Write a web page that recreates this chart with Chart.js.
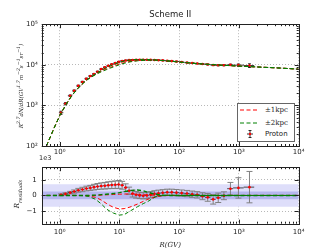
<!DOCTYPE html>
<html>
<head>
<meta charset="utf-8">
<script src="https://cdn.jsdelivr.net/npm/chart.js@4.4.0/dist/chart.umd.min.js"></script>
<style>
  body { margin: 0; background: #fff; width: 332px; height: 249px; overflow: hidden; position: relative; font-family: "DejaVu Sans", sans-serif; color: #222; }
  #topBox { position: absolute; left: 0; top: 0; width: 332px; height: 158px; }
  #botBox { position: absolute; left: 0; top: 158px; width: 332px; height: 91px; }
  .ytitle { position: absolute; white-space: nowrap; transform: translate(-50%, -50%) rotate(-90deg); font-family: "DejaVu Serif", serif; font-style: italic; }
  #ytop { left: 20px; top: 86px; font-size: 5.6px; }
  #ybot { left: 18px; top: 194px; font-size: 7px; }
  #offset { position: absolute; left: 39px; top: 154px; font-size: 6.5px; }
  #legend { position: absolute; left: 237px; top: 103px; width: 56px; height: 37px; border: 1px solid #666; background: #fff; }
  #legend .row { position: absolute; left: 0; height: 10px; width: 56px; }
  #legend svg { position: absolute; left: 1px; top: 0; }
  #legend span { position: absolute; left: 27px; top: 0; line-height: 10px; font-size: 7px; }
  #legend .math { font-family: "DejaVu Serif", serif; }
</style>
</head>
<body>
<div id="topBox"><canvas id="topChart" width="332" height="158"></canvas></div>
<div id="botBox"><canvas id="resChart" width="332" height="91"></canvas></div>
<div class="ytitle" id="ytop">R<sup>2.7</sup>dN/dR(GV<sup>1.7</sup>m<sup>−2</sup>s<sup>−1</sup>sr<sup>−1</sup>)</div>
<div class="ytitle" id="ybot">R<sub style="font-size:5px">residuals</sub></div>
<div id="offset">1e3</div>
<div id="legend">
  <div class="row" style="top:1px">
    <svg width="22" height="10"><line x1="1" y1="5" x2="20" y2="5" stroke="#ff0000" stroke-width="1" stroke-dasharray="4,2.5"/></svg>
    <span class="math">±1kpc</span>
  </div>
  <div class="row" style="top:14px">
    <svg width="22" height="10"><line x1="1" y1="5" x2="20" y2="5" stroke="#008000" stroke-width="1" stroke-dasharray="4,2.5"/></svg>
    <span class="math">±2kpc</span>
  </div>
  <div class="row" style="top:25px">
    <svg width="22" height="10">
      <line x1="11" y1="1.5" x2="11" y2="8.5" stroke="#000" stroke-width="0.8"/>
      <line x1="9.5" y1="1.5" x2="12.5" y2="1.5" stroke="#000" stroke-width="0.8"/>
      <line x1="9.5" y1="8.5" x2="12.5" y2="8.5" stroke="#000" stroke-width="0.8"/>
      <line x1="8" y1="5" x2="14" y2="5" stroke="#000" stroke-width="0.8"/>
      <circle cx="11" cy="5" r="1.2" fill="#ff0000"/>
    </svg>
    <span>Proton</span>
  </div>
</div>
<script>
// model curves (rigidity grid shared by top and residual panels)
const lineR = [0.6, 0.7, 0.8, 1, 1.3, 1.6, 2, 2.5, 3, 4, 5, 6, 7, 8, 10, 12, 15, 20, 25, 30, 40, 50, 70, 100, 200, 500, 1000, 2000, 5000, 10000];
const modelFlux = [100, 170, 270, 560, 1100, 1750, 2600, 3600, 4500, 6000, 7300, 8400, 9300, 10000, 11300, 12100, 12800, 13250, 13320, 13300, 13100, 12800, 12300, 11700, 10700, 9800, 9300, 8850, 8300, 7800];
// model differences, units of 1e3
const redA = [0, 0, 0, 0, 0, 0, 0, 0, 0, 0, 0.02, 0.04, 0.05, 0.06, 0.08, 0.09, 0.1, 0.08, 0.05, 0.03, 0.01, 0, 0, 0, 0, 0, 0, 0, 0, 0];
const redB = [0, 0, 0, 0, 0, 0, 0, -0.01, -0.03, -0.12, -0.3, -0.5, -0.65, -0.76, -0.86, -0.84, -0.74, -0.55, -0.38, -0.24, -0.1, -0.02, 0, 0, 0, 0, 0, 0, 0, 0];
const greenA = [0, 0, 0, 0, 0, 0, 0, 0, 0, 0.02, 0.05, 0.08, 0.1, 0.12, 0.18, 0.24, 0.3, 0.35, 0.3, 0.2, 0.08, 0.02, 0, 0, 0, 0, 0, 0, 0, 0];
const greenB = [0, 0, 0, 0, 0, 0, 0, -0.01, -0.05, -0.25, -0.55, -0.85, -1.02, -1.13, -1.25, -1.22, -1.0, -0.72, -0.52, -0.38, -0.08, 0, 0.02, 0, 0, 0, 0, 0, 0, 0];

// proton data
const dataR = [1.05, 1.25, 1.5, 1.75, 2.05, 2.4, 2.8, 3.25, 3.75, 4.3, 4.95, 5.7, 6.5, 7.45, 8.5, 9.7, 11.1, 12.7, 14.5, 16.6, 19, 21.8, 25, 28.8, 33.2, 38.5, 45, 53, 63, 75, 90, 110, 135, 165, 200, 245, 300, 370, 450, 560, 720, 980, 1500];
const binEdges = [0.97, 1.15, 1.37, 1.63, 1.9, 2.23, 2.6, 3.02, 3.5, 4.02, 4.63, 5.33, 6.1, 6.97, 7.97, 9.09, 10.38, 11.88, 13.58, 15.52, 17.76, 20.35, 23.35, 26.83, 30.92, 35.75, 41.6, 48.84, 57.78, 68.72, 82.17, 99.5, 121.87, 149.4, 181.66, 221.36, 271.1, 333.17, 408.16, 502, 635, 800, 1200, 1800];
const dataFlux = [660, 1100, 1730, 2300, 3030, 3780, 4540, 5280, 5930, 6770, 7850, 8670, 9450, 10270, 10980, 11800, 12450, 12800, 13050, 13170, 13290, 13300, 13280, 13300, 13250, 13150, 12990, 12820, 12600, 12350, 12080, 11650, 11320, 11030, 10740, 10450, 10180, 9850, 9750, 9730, 9980, 9800, 9580];
const resVal = [0.04, 0.1, 0.18, 0.25, 0.33, 0.38, 0.44, 0.48, 0.53, 0.57, 0.6, 0.62, 0.65, 0.67, 0.68, 0.7, 0.65, 0.5, 0.3, 0.12, 0.04, 0.0, -0.02, 0.0, 0.05, 0.1, 0.14, 0.17, 0.2, 0.2, 0.18, 0.15, 0.12, 0.08, 0.04, -0.05, -0.12, -0.25, -0.15, -0.02, 0.43, 0.48, 0.53];
const resErr = [0.06, 0.07, 0.08, 0.1, 0.12, 0.14, 0.15, 0.16, 0.18, 0.19, 0.2, 0.21, 0.22, 0.23, 0.24, 0.25, 0.25, 0.24, 0.23, 0.22, 0.21, 0.2, 0.2, 0.2, 0.2, 0.2, 0.2, 0.2, 0.2, 0.2, 0.2, 0.2, 0.2, 0.2, 0.2, 0.22, 0.25, 0.3, 0.3, 0.25, 0.4, 0.65, 1.0];

const xTicks = [1, 10, 100, 1000, 10000];
const yTicksTop = [100, 1000, 10000, 100000];
const yTicksRes = [-1, 0, 1];
const bandOuter = 0.72;
const bandInner = 0.25;

const RED = "#ff0000";
const GREEN = "#008000";
const tickFont = { family: "DejaVu Sans", size: 7 };

const SUP = { "-": "⁻", "0": "⁰", "1": "¹", "2": "²", "3": "³", "4": "⁴", "5": "⁵" };
function pow10Label(v) {
    const e = String(Math.round(Math.log10(v)));
    return "10" + e.split("").map(c => SUP[c]).join("");
}

function xy(xs, ys) {
    return xs.map((x, i) => ({ x: x, y: ys[i] }));
}

function logMarks(min, max) {
    const out = [];
    for (let d = -1; d <= 5; d++) {
        for (let m = 1; m <= 9; m++) {
            const v = m * Math.pow(10, d);
            if (v >= min * 0.999 && v <= max * 1.001) out.push([v, m === 1]);
        }
    }
    return out;
}

// frame around plot area + inward tick marks
const frame = {
    id: "frame",
    afterDraw(chart) {
        const { ctx, chartArea: a, scales } = chart;
        ctx.save();
        ctx.strokeStyle = "#222";
        ctx.lineWidth = 1;
        ctx.beginPath();
        logMarks(scales.x.min, scales.x.max).forEach(([v, major]) => {
            const px = Math.round(scales.x.getPixelForValue(v)) + 0.5;
            const len = major ? 4 : 2;
            ctx.moveTo(px, a.bottom); ctx.lineTo(px, a.bottom - len);
            ctx.moveTo(px, a.top); ctx.lineTo(px, a.top + len);
        });
        const ym = scales.y.type === "logarithmic" ? logMarks(scales.y.min, scales.y.max) : yTicksRes.map(v => [v, true]);
        ym.forEach(([v, major]) => {
            const py = Math.round(scales.y.getPixelForValue(v)) + 0.5;
            const len = major ? 4 : 2;
            ctx.moveTo(a.left, py); ctx.lineTo(a.left + len, py);
            ctx.moveTo(a.right, py); ctx.lineTo(a.right - len, py);
        });
        ctx.stroke();
        ctx.strokeRect(Math.round(a.left) + 0.5, Math.round(a.top) + 0.5, Math.round(a.right - a.left), Math.round(a.bottom - a.top));
        ctx.restore();
    }
};

const topBars = {
    id: "topBars",
    beforeDatasetsDraw(chart) {
        const { ctx, scales: { x, y } } = chart;
        ctx.save();
        ctx.strokeStyle = "#000";
        ctx.lineWidth = 0.8;
        ctx.beginPath();
        dataR.forEach((r, i) => {
            const px = x.getPixelForValue(r);
            const py = y.getPixelForValue(dataFlux[i]);
            const lo = y.getPixelForValue(dataFlux[i] - resErr[i] * 1000);
            const hi = y.getPixelForValue(dataFlux[i] + resErr[i] * 1000);
            ctx.moveTo(px, lo); ctx.lineTo(px, hi);
            ctx.moveTo(px - 1.5, lo); ctx.lineTo(px + 1.5, lo);
            ctx.moveTo(px - 1.5, hi); ctx.lineTo(px + 1.5, hi);
            ctx.moveTo(x.getPixelForValue(binEdges[i]), py);
            ctx.lineTo(x.getPixelForValue(binEdges[i + 1]), py);
        });
        ctx.stroke();
        ctx.restore();
    }
};

const resBars = {
    id: "resBars",
    beforeDatasetsDraw(chart) {
        const { ctx, scales: { x, y } } = chart;
        ctx.save();
        ctx.strokeStyle = "#808080";
        ctx.lineWidth = 1;
        ctx.beginPath();
        dataR.forEach((r, i) => {
            const px = x.getPixelForValue(r);
            const lo = y.getPixelForValue(resVal[i] - resErr[i]);
            const hi = y.getPixelForValue(resVal[i] + resErr[i]);
            ctx.moveTo(px, lo); ctx.lineTo(px, hi);
            ctx.moveTo(px - 3, lo); ctx.lineTo(px + 3, lo);
            ctx.moveTo(px - 3, hi); ctx.lineTo(px + 3, hi);
        });
        ctx.stroke();
        ctx.strokeStyle = "#222";
        ctx.lineWidth = 0.8;
        ctx.beginPath();
        dataR.forEach((r, i) => {
            const py = y.getPixelForValue(resVal[i]);
            ctx.moveTo(x.getPixelForValue(binEdges[i]), py);
            ctx.lineTo(x.getPixelForValue(binEdges[i + 1]), py);
        });
        ctx.stroke();
        ctx.restore();
    }
};

function xScale(withTitle, height) {
    return {
        type: "logarithmic",
        min: 0.5,
        max: 10000,
        afterBuildTicks: s => { s.ticks = xTicks.map(v => ({ value: v })); },
        afterFit: s => { s.height = height; },
        ticks: { callback: v => pow10Label(v), font: tickFont, color: "#222", padding: withTitle ? 4 : 2, maxRotation: 0, autoSkip: false },
        grid: { color: "#9a9a9a", lineWidth: 0.7, drawTicks: false },
        border: { display: false, dash: [1, 2] },
        title: { display: withTitle, text: "R(GV)", font: { family: "DejaVu Serif", style: "italic", size: 7 }, color: "#222", padding: { top: 1, bottom: 0 } }
    };
}

function dashed(data, color, order, width) {
    return { type: "line", data: data, showLine: true, borderColor: color, borderWidth: width || 1, borderDash: [4, 2.5], pointRadius: 0, fill: false, order: order };
}

const baseOptions = {
    responsive: false,
    animation: false,
    devicePixelRatio: 1,
    events: [],
};

new Chart(document.getElementById("topChart"), {
    type: "scatter",
    data: {
        datasets: [
            dashed(xy(lineR, lineR.map((r, i) => modelFlux[i] + redA[i] * 1000)), RED, 2),
            dashed(xy(lineR, lineR.map((r, i) => modelFlux[i] + redB[i] * 1000)), RED, 2),
            dashed(xy(lineR, lineR.map((r, i) => modelFlux[i] + greenA[i] * 1000)), GREEN, 1),
            dashed(xy(lineR, lineR.map((r, i) => modelFlux[i] + greenB[i] * 1000)), GREEN, 1),
            { data: xy(dataR, dataFlux), pointRadius: 1.3, pointBackgroundColor: RED, pointBorderWidth: 0, order: 5 }
        ]
    },
    options: Object.assign({}, baseOptions, {
        layout: { padding: { left: 0, right: 33.3, top: 0, bottom: 0 } },
        plugins: {
            legend: { display: false },
            tooltip: { enabled: false },
            title: { display: true, text: "Scheme II", fullSize: false, font: { family: "DejaVu Sans", size: 8.5, weight: "normal" }, color: "#222", padding: { top: 10, bottom: 4 } }
        },
        scales: {
            x: xScale(false, 12),
            y: {
                type: "logarithmic",
                min: 100,
                max: 100000,
                afterBuildTicks: s => { s.ticks = yTicksTop.map(v => ({ value: v })); },
                afterFit: s => { s.width = 41.7; },
                ticks: { callback: v => pow10Label(v), font: tickFont, color: "#222", padding: 4, autoSkip: false },
                grid: { color: "#9a9a9a", lineWidth: 0.7, drawTicks: false },
                border: { display: false, dash: [1, 2] }
            }
        }
    }),
    plugins: [topBars, frame]
});

new Chart(document.getElementById("resChart"), {
    type: "scatter",
    data: {
        datasets: [
            { type: "line", data: [{ x: 0.5, y: bandOuter }, { x: 10000, y: bandOuter }], borderWidth: 0, pointRadius: 0, fill: false, order: 20 },
            { type: "line", data: [{ x: 0.5, y: -bandOuter }, { x: 10000, y: -bandOuter }], borderWidth: 0, pointRadius: 0, fill: "-1", backgroundColor: "#dedefa", order: 20 },
            { type: "line", data: [{ x: 0.5, y: bandInner }, { x: 10000, y: bandInner }], borderWidth: 0, pointRadius: 0, fill: false, order: 19 },
            { type: "line", data: [{ x: 0.5, y: -bandInner }, { x: 10000, y: -bandInner }], borderWidth: 0, pointRadius: 0, fill: "-1", backgroundColor: "#b6b6ef", order: 19 },
            { data: xy(dataR, resVal), pointRadius: 1.3, pointBackgroundColor: RED, pointBorderWidth: 0, order: 5 },
            dashed(xy(lineR, redA), RED, 2),
            dashed(xy(lineR, redB), RED, 2),
            dashed(xy(lineR, greenA), GREEN, 1, 1.4),
            dashed(xy(lineR, greenB), GREEN, 1)
        ]
    },
    options: Object.assign({}, baseOptions, {
        layout: { padding: { left: 0, right: 33.3, top: 6, bottom: 0 } },
        plugins: {
            legend: { display: false },
            tooltip: { enabled: false },
            filler: { drawTime: "beforeDatasetsDraw" }
        },
        scales: {
            x: xScale(true, 25.3),
            y: {
                type: "linear",
                min: -1.8,
                max: 1.8,
                afterBuildTicks: s => { s.ticks = yTicksRes.map(v => ({ value: v })); },
                afterFit: s => { s.width = 41.7; },
                ticks: { callback: v => (v < 0 ? "−" + Math.abs(v) : String(v)), font: tickFont, color: "#222", padding: 5, autoSkip: false },
                grid: { color: "#9a9a9a", lineWidth: 0.7, drawTicks: false },
                border: { display: false, dash: [1, 2] }
            }
        }
    }),
    plugins: [resBars, frame]
});
</script>
</body>
</html>
